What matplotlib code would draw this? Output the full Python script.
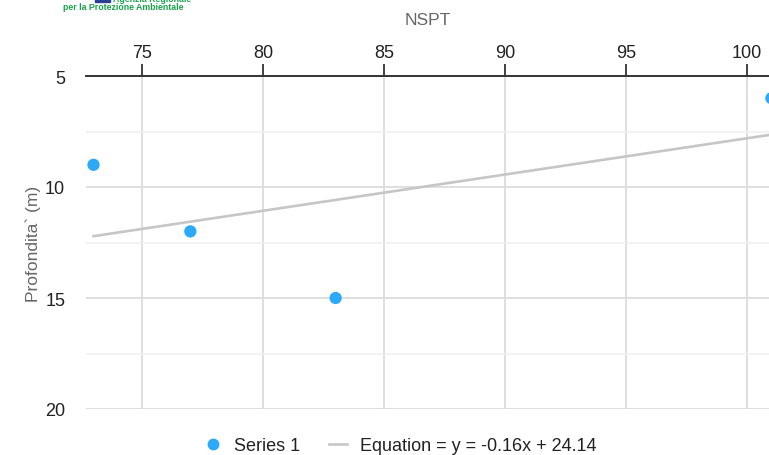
import numpy as np
import matplotlib
matplotlib.use("Agg")
import matplotlib.pyplot as plt
from matplotlib.lines import Line2D

# NSPT readings against depth
nspt = [73, 77, 83, 101]
depth = [9, 12, 15, 6]
series_name = "Series 1"

x_ticks = [75, 80, 85, 90, 95, 100]
y_ticks = [5, 10, 15, 20]

plt.rcParams['font.family'] = ['Liberation Sans', 'DejaVu Sans']

W, H = 769, 456
fig = plt.figure(figsize=(W / 100, H / 100), dpi=100)
ax = fig.add_axes([86 / W, 46 / H, (W - 86) / W, 333 / H])

# least squares trend line
slope, intercept = np.polyfit(nspt, depth, 1)
xs = np.array([min(nspt), max(nspt)])
ax.plot(xs, slope * xs + intercept, color='#c6c6c6', lw=1.9, zorder=2)

ax.scatter(nspt, depth, s=78, color='#2ca9f7', edgecolors='none',
           zorder=3, clip_on=False)

ax.set_xlim(72.69, 100.9)
ax.set_ylim(20, 5)

ax.xaxis.tick_top()
ax.set_xticks(x_ticks)
ax.set_yticks(y_ticks)
ax.set_yticks([7.5, 12.5, 17.5], minor=True)
ax.tick_params(axis='x', which='major', length=9, width=1.3, color='#333333',
               labelsize=13, labelcolor='#222222', pad=2)
ax.tick_params(axis='y', which='both', length=0, labelsize=13,
               labelcolor='#222222', pad=15)

ax.grid(True, which='major', color='#dcdcdc', lw=1.3, zorder=0)
ax.grid(True, which='minor', axis='y', color='#efefef', lw=1.1, zorder=0)
ax.set_axisbelow(True)

for side in ['left', 'right', 'bottom']:
    ax.spines[side].set_visible(False)
ax.spines['top'].set_color('#333333')
ax.spines['top'].set_linewidth(1.4)

ax.xaxis.set_label_position('top')
ax.set_xlabel('NSPT', fontsize=12.5, color='#666666', labelpad=14)
ax.set_ylabel('Profondita` (m)', fontsize=12.5, color='#666666', labelpad=3)

# legend under the plot
handles = [
    Line2D([], [], ls='none', marker='o', ms=7.5, color='#2ca9f7'),
    Line2D([], [], color='#c6c6c6', lw=1.9),
]
labels = [series_name,
          'Equation = y = {:.2f}x + {:.2f}'.format(slope, intercept)]
fig.legend(handles, labels, loc='center', bbox_to_anchor=(400 / W, 1 - 447 / H),
           ncol=2, frameon=False, fontsize=13, labelcolor='#222222',
           handlelength=1.0, handletextpad=0.7, columnspacing=1.6)

# agency logo strip
fig.patches.append(plt.Rectangle((95 / W, 1 - 2.5 / H), 15 / W, 2.5 / H,
                                 transform=fig.transFigure, color='#2b3f93'))
fig.text(113 / W, 1 + 5 / H, 'Agenzia Regionale', fontsize=6.3,
         fontweight='bold', color='#17a34a', va='top')
fig.text(63 / W, 1 - 3.5 / H, 'per la Protezione Ambientale', fontsize=6.3,
         fontweight='bold', color='#17a34a', va='top')

fig.savefig('out.png', dpi=100, facecolor='white')
